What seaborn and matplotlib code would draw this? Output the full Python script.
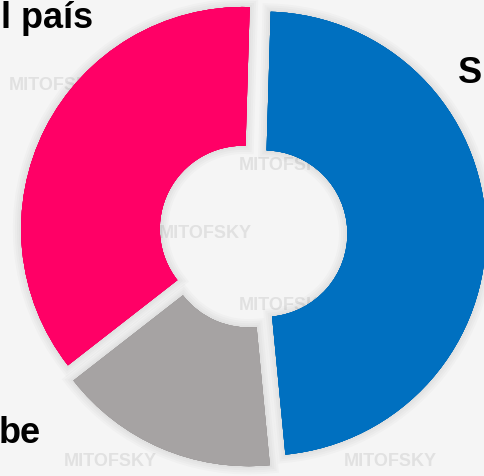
import matplotlib
matplotlib.use("Agg")
import matplotlib.pyplot as plt
import matplotlib.patheffects as pe
import seaborn as sns

# Data
categories = ["Sí", "No sabe", "No, el país"]
values = [48, 16, 36]
colors = ["#0070C0", "#A6A3A3", "#FF0066"]
label_texts = ["l país", "S", "be"]

sns.set_theme(style="white")
plt.rcParams['font.family'] = ['Liberation Sans', 'DejaVu Sans']

W, H = 484, 476
fig = plt.figure(figsize=(W / 100, H / 100), dpi=100)
bg = "#F5F5F5"
fig.patch.set_facecolor(bg)
ax = fig.add_axes([0, 0, 1, 1])
ax.set_facecolor(bg)

scale = 222.0
cx, cy = 253.0, 234.0


def px(x, y):
    return (x - cx) / scale, (cy - y) / scale


# faint watermark behind the chart
for (x, y) in [(285, 165), (205, 234), (285, 305), (110, 462), (55, 85), (390, 462)]:
    ax.text(*px(x, y), "MITOFSKY", fontsize=13, fontweight="bold", color="#E1E1E1",
            ha="center", va="center", zorder=0.2)

wedges, _ = ax.pie(values, explode=[0.05, 0.05, 0.05], startangle=88.3, counterclock=False,
                   colors=colors, radius=1.0, wedgeprops=dict(width=0.625, linewidth=0))
glow = [pe.Stroke(linewidth=lw, foreground=(0, 0, 0, 0.02)) for lw in (12, 9, 6, 3)]
for w in wedges:
    w.set_path_effects(glow + [pe.Normal()])

ax.set_xlim(-cx / scale, (W - cx) / scale)
ax.set_ylim(-(H - cy) / scale, cy / scale)
ax.set_aspect("equal")
ax.axis("off")

fs = 26
fig.text(93 / W, 1 - 28 / H, label_texts[0], fontsize=fs, fontweight="bold", color="black",
         ha="right", va="baseline")
fig.text(458 / W, 1 - 83 / H, label_texts[1], fontsize=fs, fontweight="bold", color="black",
         ha="left", va="baseline")
fig.text(-1 / W, 1 - 443 / H, label_texts[2], fontsize=fs, fontweight="bold", color="black",
         ha="left", va="baseline")

fig.savefig("out.png", dpi=100, facecolor=bg)
